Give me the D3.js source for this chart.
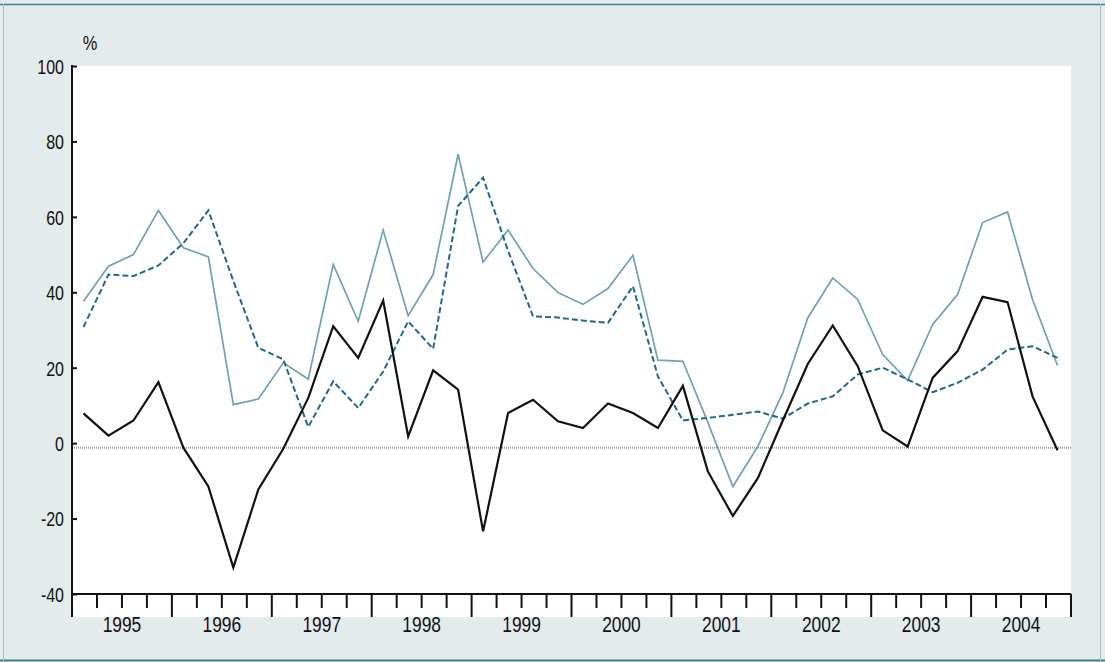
<!DOCTYPE html>
<html>
<head>
<meta charset="utf-8">
<script src="https://cdn.jsdelivr.net/npm/d3@7"></script>
<style>
  html, body { margin: 0; padding: 0; background: #e4ebed; }
  svg { display: block; }
  text { font-family: "Liberation Sans", Arial, sans-serif; fill: #111; }
</style>
</head>
<body>
<svg id="chart" width="1105" height="662"></svg>
<script>
// ---- data ----
const years = ["1995","1996","1997","1998","1999","2000","2001","2002","2003","2004"];
const quarters = ["Q1","Q2","Q3","Q4"];
const yTicks = [-40, -20, 0, 20, 40, 60, 80, 100];
const yUnit = "%";

const seriesBlack = [7.9, 2.0, 6.0, 16.2, -1.2, -11.5, -33.0, -12.3, -1.5, 12.0,
                     31.0, 22.6, 37.8, 1.8, 19.3, 14.2, -23.4, 8.0, 11.5, 5.8,
                     4.0, 10.5, 8.0, 4.0, 15.2, -7.5, -19.3, -9.3, 6.0, 21.0,
                     31.2, 20.4, 3.4, -0.9, 17.3, 24.4, 38.8, 37.4, 12.4, -1.9];
const seriesLight = [37.6, 46.9, 50.0, 61.7, 51.8, 49.4, 10.2, 11.7, 21.3, 17.0,
                     47.4, 32.3, 56.5, 33.8, 44.7, 76.6, 48.0, 56.5, 46.3, 39.9,
                     36.8, 41.0, 49.8, 22.0, 21.7, 5.5, -11.5, -0.9, 13.3, 33.2,
                     43.8, 38.1, 23.5, 16.6, 31.5, 39.4, 58.5, 61.3, 38.1, 20.6];
const seriesDashed = [30.8, 44.7, 44.3, 47.1, 53.0, 61.7, 43.0, 25.3, 22.2, 4.3,
                      16.4, 9.3, 19.0, 32.3, 25.0, 62.9, 70.4, 51.0, 33.6, 33.3,
                      32.5, 31.9, 41.6, 17.7, 6.0, 6.7, 7.5, 8.4, 6.5, 10.5,
                      12.4, 18.2, 20.0, 16.9, 13.5, 16.0, 19.5, 24.8, 25.7, 22.6];
const refLineValue = -1.2;

// ---- layout ----
const svg = d3.select("#chart");
const W = 1105, H = 662;
const plotLeft = 72, plotRight = 1071, plotTop = 66, axisY = 594, whiteBottom = 617;

const categories = years.flatMap(yr => quarters.map(q => yr + q));

const x = d3.scaleLinear().domain([0, categories.length]).range([plotLeft, plotRight]);
const y = d3.scaleLinear().domain([-40, 100]).range([axisY, plotTop]);

// background frame
svg.append("rect").attr("x", 0).attr("y", 0).attr("width", W).attr("height", H).attr("fill", "#e4ebed");
svg.append("line").attr("x1", 0).attr("x2", W).attr("y1", 4.5).attr("y2", 4.5).attr("stroke", "#3e7f8e").attr("stroke-width", 1.5);
svg.append("line").attr("x1", 0).attr("x2", W).attr("y1", 660.5).attr("y2", 660.5).attr("stroke", "#3e7f8e").attr("stroke-width", 2);
svg.append("line").attr("x1", 3.5).attr("x2", 3.5).attr("y1", 4).attr("y2", 661).attr("stroke", "#a9bcc4").attr("stroke-width", 1);
svg.append("line").attr("x1", 1100.5).attr("x2", 1100.5).attr("y1", 4).attr("y2", 661).attr("stroke", "#a9bcc4").attr("stroke-width", 1);

// white plot area
svg.append("rect").attr("x", plotLeft).attr("y", plotTop).attr("width", plotRight - plotLeft).attr("height", whiteBottom - plotTop).attr("fill", "#ffffff");

// reference line
svg.append("line")
  .attr("x1", plotLeft).attr("x2", plotRight)
  .attr("y1", y(refLineValue)).attr("y2", y(refLineValue))
  .attr("stroke", "#9c9c9c").attr("stroke-width", 2).attr("stroke-dasharray", "1,1");

// lines
const xPos = i => x(i + 0.46);
const lineGen = d3.line().x((d, i) => xPos(i)).y(d => y(d));

svg.append("path").datum(seriesLight).attr("d", lineGen)
  .attr("fill", "none").attr("stroke", "#6fa2b2").attr("stroke-width", 1.7).attr("stroke-linejoin", "miter");
svg.append("path").datum(seriesDashed).attr("d", lineGen)
  .attr("fill", "none").attr("stroke", "#1f6a8c").attr("stroke-width", 2).attr("stroke-dasharray", "6,3");
svg.append("path").datum(seriesBlack).attr("d", lineGen)
  .attr("fill", "none").attr("stroke", "#111111").attr("stroke-width", 2.2).attr("stroke-linejoin", "miter");

// y axis
const yAxis = d3.axisRight(y).tickValues(yTicks).tickSize(5).tickFormat(d => String(d));
const gy = svg.append("g").attr("transform", `translate(${plotLeft},0)`).call(yAxis);
gy.select(".domain").remove();
gy.selectAll(".tick line").attr("stroke", "#111").attr("stroke-width", 2);
gy.selectAll(".tick text")
  .attr("x", 0).attr("dy", "0.36em").attr("text-anchor", "end")
  .attr("transform", "translate(-8,0) scale(0.78,1)")
  .style("font-size", "20.5px").attr("fill", "#111");
svg.append("line").attr("x1", plotLeft).attr("x2", plotLeft).attr("y1", plotTop - 1).attr("y2", whiteBottom)
  .attr("stroke", "#111").attr("stroke-width", 2);

// unit label
svg.append("text").attr("text-anchor", "middle")
  .attr("transform", "translate(90,50) scale(0.8,1)")
  .style("font-size", "20.5px").text(yUnit);

// x axis
svg.append("line").attr("x1", plotLeft).attr("x2", plotRight).attr("y1", axisY).attr("y2", axisY)
  .attr("stroke", "#111").attr("stroke-width", 2);
const qTicks = d3.range(1, categories.length + 1);
svg.selectAll(".qtick").data(qTicks).enter().append("line")
  .attr("class", "qtick")
  .attr("x1", d => x(d)).attr("x2", d => x(d))
  .attr("y1", axisY)
  .attr("y2", d => (d % 4 === 0) ? whiteBottom : axisY + 14)
  .attr("stroke", "#111").attr("stroke-width", 2);

svg.selectAll(".ylab").data(years).enter().append("text")
  .attr("class", "ylab")
  .attr("transform", (d, i) => `translate(${x(i * 4 + 2)},632) scale(0.79,1)`)
  .attr("text-anchor", "middle")
  .style("font-size", "22px")
  .text(d => d);
</script>
</body>
</html>
